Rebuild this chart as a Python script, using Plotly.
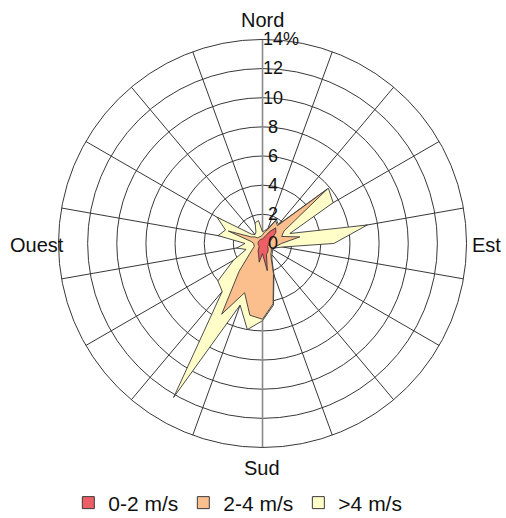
import plotly.graph_objects as go

# Wind directions (degrees, clockwise from north) and frequency (%) per speed class
directions = list(range(0, 360, 10))
freq_0_2 = [0.3, 0.4, 0.5, 0.9, 1.4, 1.2, 0.8, 0.6, 0.5, 0.4,
            0.5, 0.4, 0.4, 0.5, 0.6, 0.7, 0.8, 1.9, 0.7, 1.3,
            0.8, 0.6, 0.4, 0.3, 0.3, 0.3, 0.3, 0.3, 0.3, 0.3,
            0.3, 0.3, 0.3, 0.3, 0.3, 0.3]
freq_2_4 = [0.3, 0.4, 0.5, 0.9, 0.2, 4.6, 0.9, 0.8, 2.1, 0.9,
            0.5, 0.4, 0.3, 0.3, 0.3, 0.5, 1.4, 2.3, 4.5, 3.7,
            2.8, 5.0, 2.1, 0.9, 0.5, 0.3, 0.3, 0.3, 0.5, 2.2,
            0.6, 0.4, 0.2, 0.2, 0.2, 0.2]
freq_gt4 = [0.2, 0.1, 0.1, 0.1, 0.1, 0.1, 3.9, 0.6, 4.7, 3.6,
            0.4, 0.1, 0.1, 0.1, 0.1, 0.1, 0.1, 0.1, 0.1, 1.0,
            0.9, 6.6, 1.8, 2.8, 1.5, 0.6, 1.2, 0.6, 2.3, 0.2,
            2.7, 0.3, 0.3, 0.4, 1.0, 1.1]

class_names = ["0-2 m/s", "2-4 m/s", ">4 m/s"]
class_colors = ["#EE5E66", "#FBBE8D", "#FFFDC8"]

radial_ticks = [0, 2, 4, 6, 8, 10, 12, 14]
radial_labels = ["\u00a00", "\u00a02", "\u00a04", "\u00a06", "\u00a08", "10", "12", "14%"]
cardinals = ["Nord", "Est", "Sud", "Ouest"]

# cumulative totals: each polygon covers all slower classes
cum1 = freq_0_2
cum2 = [a + b for a, b in zip(cum1, freq_2_4)]
cum3 = [a + b for a, b in zip(cum2, freq_gt4)]
cumulative = [cum1, cum2, cum3]

FONT = "Liberation Sans, Arial, sans-serif"
OUTLINE = "#3a3a3a"
GRID = "#383838"
R_MAX = radial_ticks[-1]

fig = go.Figure()

# north-south reference line through the centre
fig.add_trace(go.Scatterpolar(
    r=[R_MAX, 0, R_MAX], theta=[0, 0, 180], mode="lines",
    line=dict(color="#8a8a8a", width=1.6),
    showlegend=False, hoverinfo="skip"))

# largest polygon first so smaller classes sit on top
for idx in [2, 1, 0]:
    vals = cumulative[idx]
    fig.add_trace(go.Scatterpolar(
        r=vals + [vals[0]],
        theta=directions + [directions[0]],
        mode="lines", fill="toself",
        fillcolor=class_colors[idx],
        line=dict(color=OUTLINE, width=0.9),
        name=class_names[idx], showlegend=False,
    ))

# square swatches for the legend
for name, color in zip(class_names, class_colors):
    fig.add_trace(go.Scatterpolar(
        r=[None], theta=[None], mode="markers", name=name,
        marker=dict(symbol="square", size=12, color=color,
                    line=dict(color=OUTLINE, width=1)),
        hoverinfo="skip"))

fig.update_layout(
    width=506, height=518,
    margin=dict(l=0, r=0, t=0, b=0, autoexpand=False),
    paper_bgcolor="white",
    font=dict(family=FONT, size=20, color="#111"),
    showlegend=True,
    legend=dict(orientation="h", x=0.47, xanchor="center", y=0.029, yanchor="middle",
                font=dict(size=21, family=FONT, color="#111"),
                traceorder="normal", itemwidth=30),
    polar=dict(
        domain=dict(x=[0.1156, 0.922], y=[0.136, 0.924]),
        bgcolor="white",
        angularaxis=dict(rotation=90, direction="clockwise",
                         tickmode="linear", tick0=0, dtick=20,
                         showticklabels=False, ticks="",
                         gridcolor=GRID, gridwidth=1,
                         showline=True, linecolor=GRID, linewidth=1),
        radialaxis=dict(range=[0, R_MAX], tickvals=radial_ticks, ticktext=radial_labels,
                        angle=90, tickangle=90, side="clockwise",
                        showline=False, ticks="",
                        gridcolor=GRID, gridwidth=1,
                        tickfont=dict(size=18, family=FONT, color="#111")),
    ),
)

# compass labels around the rose
label_pos = [(0.518, 0.962), (0.962, 0.527), (0.518, 0.096), (0.073, 0.527)]
for text, (x, y) in zip(cardinals, label_pos):
    fig.add_annotation(text=text, x=x, y=y, xref="paper", yref="paper",
                       xanchor="center", yanchor="middle", showarrow=False,
                       font=dict(size=20, family=FONT, color="#111"))

fig.write_html("out.html")
